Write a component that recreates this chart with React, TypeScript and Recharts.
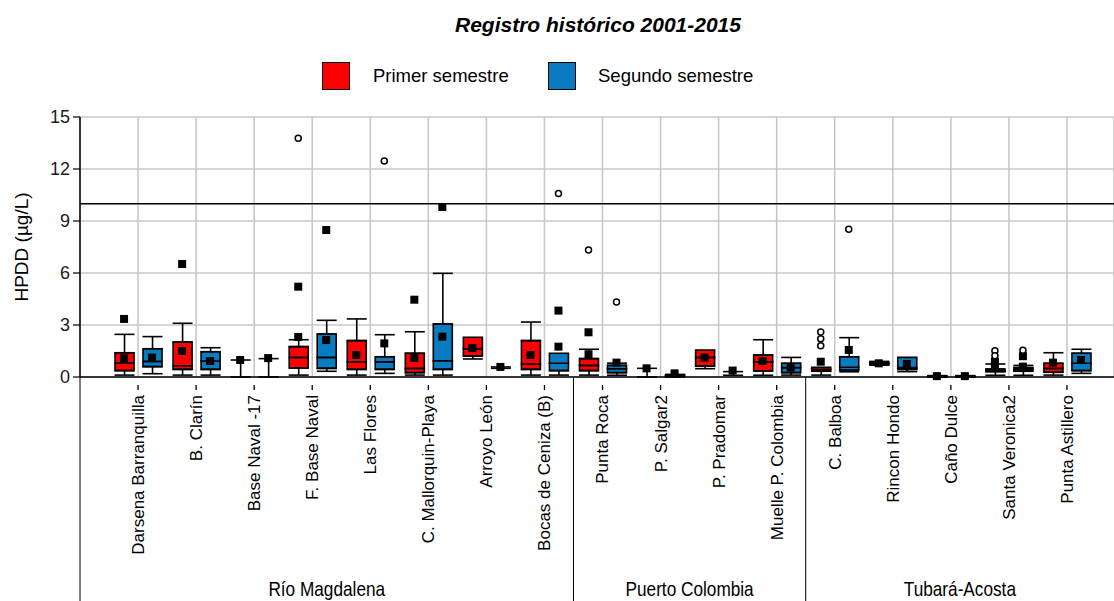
import React from "react";
import {
  ComposedChart,
  Bar,
  Scatter,
  XAxis,
  YAxis,
  CartesianGrid,
  ReferenceLine,
  ErrorBar,
} from "recharts";

// ---------------- data ----------------
const title = "Registro histórico 2001-2015";
const seriesNames = ["Primer semestre", "Segundo semestre"];
const yLabel = "HPDD (µg/L)";
const yTicks = [0, 3, 6, 9, 12, 15];
const limitValue = 10;

const stations = [
  "Darsena Barranquilla",
  "B. Clarín",
  "Base Naval -17",
  "F. Base Naval",
  "Las Flores",
  "C. Mallorquin-Playa",
  "Arroyo León",
  "Bocas de Ceniza (B)",
  "Punta Roca",
  "P. Salgar2",
  "P. Pradomar",
  "Muelle P. Colombia",
  "C. Balboa",
  "Rincon Hondo",
  "Caño Dulce",
  "Santa Veronica2",
  "Punta Astillero",
];
const groups = ["Río Magdalena", "Puerto Colombia", "Tubará-Acosta"];
const groupSizes = [8, 4, 5];

// Primer semestre (red)
const p1Low = [0.11, 0.11, 0, 0.11, 0.11, 0.11, 1.04, 0.11, 0.11, 0, 0.48, 0.1, 0.11, 0.68, 0, 0.1, 0.11];
const p1Q1 = [0.37, 0.44, 0.98, 0.52, 0.44, 0.25, 1.21, 0.44, 0.37, 0.5, 0.63, 0.35, 0.33, 0.72, 0.02, 0.31, 0.27];
const p1Median = [0.81, 0.65, 0.98, 1.13, 0.88, 0.5, 1.62, 0.75, 0.67, 0.5, 1.13, 0.87, 0.44, 0.78, 0.03, 0.36, 0.5];
const p1Q3 = [1.4, 2.02, 0.98, 1.75, 2.1, 1.37, 2.29, 2.1, 1.06, 0.5, 1.56, 1.27, 0.56, 0.85, 0.05, 0.46, 0.79];
const p1High = [2.46, 3.1, 0.98, 2.15, 3.35, 2.61, 2.29, 3.17, 1.6, 0.5, 1.56, 2.15, 0.56, 0.9, 0.08, 0.75, 1.4];
const p1Squares = [
  [1.08, 3.35], [1.5, 6.52], [0.98], [2.31, 5.21], [1.27], [1.1, 4.46], [1.67], [1.27],
  [1.31, 2.58], [0.5], [1.12], [0.92], [0.88], [0.79], [0.05], [0.62, 0.88], [0.83],
];
const p1Circles = [
  [], [], [], [13.77], [], [], [], [], [7.33], [], [], [], [2.6, 2.2, 1.8], [], [], [1.52, 1.22], [],
];

// Segundo semestre (blue)
const p2Low = [0.19, 0.11, 0, 0.33, 0.21, 0.11, 0.5, 0.11, 0.1, 0, 0.1, 0.11, 0.3, 0.31, 0, 0.1, 0.21];
const p2Q1 = [0.6, 0.44, 1.06, 0.5, 0.44, 0.44, 0.58, 0.37, 0.25, 0.05, 0.31, 0.25, 0.4, 0.44, 0.02, 0.33, 0.37];
const p2Median = [0.9, 0.92, 1.06, 1.13, 0.87, 0.94, 0.58, 0.79, 0.48, 0.08, 0.31, 0.54, 0.56, 0.54, 0.03, 0.44, 0.79];
const p2Q3 = [1.63, 1.46, 1.06, 2.48, 1.17, 3.06, 0.58, 1.37, 0.67, 0.12, 0.31, 0.79, 1.17, 1.13, 0.05, 0.54, 1.37];
const p2High = [2.33, 1.69, 1.06, 3.27, 2.44, 5.98, 0.58, 1.37, 0.8, 0.15, 0.31, 1.13, 2.27, 1.13, 0.08, 0.67, 1.6];
const p2Squares = [
  [1.12], [0.92], [1.09], [2.13, 8.48], [1.94], [2.33, 9.81], [0.58], [1.75, 3.83],
  [0.83], [0.21], [0.37], [0.54], [1.56], [0.75], [0.05], [0.6, 1.2], [0.98],
];
const p2Circles = [
  [], [], [], [], [12.46], [], [], [10.58], [4.33], [], [], [], [8.52], [], [], [1.55], [],
];

// ---------------- style / layout ----------------
const FONT = '"Liberation Sans", Arial, Helvetica, sans-serif';
const RED = "#ff0000";
const BLUE = "#0a7bc1";
const GRID = "#c8c8c8";

const CHART_W = 1114;
const CHART_H = 601;
const MARGIN = { top: 117, right: 0, bottom: 0, left: 20 };
const Y_AXIS_W = 60;
const X_AXIS_H = 224;
const PLOT_W = CHART_W - MARGIN.left - Y_AXIS_W - MARGIN.right;
const X_SPAN = 17.81; // visible plot width measured in station spacings
const BAND = PLOT_W / X_SPAN;
const PAD_LEFT = BAND / 2;
const PAD_RIGHT = PLOT_W - PAD_LEFT - stations.length * BAND;
const BAR = 19;
const GAP = 9;
const OFF = (BAR + GAP) / 2;

// ---------------- derived table ----------------
const maxLen = (a: number[][]) => Math.max(...a.map((x) => x.length));
const nP1Sq = maxLen(p1Squares);
const nP1Ci = maxLen(p1Circles);
const nP2Sq = maxLen(p2Squares);
const nP2Ci = maxLen(p2Circles);

const rows = stations.map((station, i) => {
  const row: Record<string, any> = {
    station,
    rLo: p1Low[i], rQ1: p1Q1[i], rMed: p1Median[i], rQ3: p1Q3[i], rHi: p1High[i],
    rSegA: p1Median[i] - p1Q1[i], rSegB: p1Q3[i] - p1Median[i],
    bLo: p2Low[i], bQ1: p2Q1[i], bMed: p2Median[i], bQ3: p2Q3[i], bHi: p2High[i],
    bSegA: p2Median[i] - p2Q1[i], bSegB: p2Q3[i] - p2Median[i],
  };
  for (let k = 0; k < nP1Sq; k++) row[`rSq${k}`] = p1Squares[i][k] ?? null;
  for (let k = 0; k < nP1Ci; k++) row[`rCi${k}`] = p1Circles[i][k] ?? null;
  for (let k = 0; k < nP2Sq; k++) row[`bSq${k}`] = p2Squares[i][k] ?? null;
  for (let k = 0; k < nP2Ci; k++) row[`bCi${k}`] = p2Circles[i][k] ?? null;
  return row;
});

// group separators / label centres in station units (station i sits at i+1)
const groupStarts: number[] = [];
const groupBoundaries: number[] = [];
const groupCenters: number[] = [];
{
  let s = 0;
  groupSizes.forEach((n, g) => {
    const left = g === 0 ? 0 : s + 0.5;
    const right = g === groupSizes.length - 1 ? X_SPAN : s + n + 0.5;
    groupStarts.push(s);
    groupBoundaries.push(left);
    groupCenters.push((left + right) / 2);
    s += n;
  });
}

// ---------------- shapes ----------------
const squareShape = (dx: number) => (p: any) => {
  const { cx, cy } = p;
  if (cx == null || cy == null || Number.isNaN(cy)) return <g />;
  return <rect x={cx + dx - 4} y={cy - 4} width={8} height={8} fill="#000" />;
};
const circleShape = (dx: number) => (p: any) => {
  const { cx, cy } = p;
  if (cx == null || cy == null || Number.isNaN(cy)) return <g />;
  return <circle cx={cx + dx} cy={cy} r={3} fill="#fff" stroke="#000" strokeWidth={1.5} />;
};

const StationTick = (props: any) => {
  const { x, y, payload } = props;
  const i = stations.indexOf(payload.value);
  const gi = groupStarts.indexOf(i);
  let groupPart: React.ReactNode = null;
  if (gi >= 0) {
    const pos = i + 1;
    const sepX = x + (groupBoundaries[gi] - pos) * BAND;
    const cX = x + (groupCenters[gi] - pos) * BAND;
    groupPart = (
      <g>
        <line x1={sepX} x2={sepX} y1={y} y2={y + X_AXIS_H} stroke="#000" strokeWidth={1} />
        <text
          transform={`translate(${cX},${y + 219}) scale(0.82,1)`}
          textAnchor="middle"
          fontSize={21}
          fontFamily={FONT}
          fill="#000"
        >
          {groups[gi]}
        </text>
      </g>
    );
  }
  return (
    <g>
      {groupPart}
      <line x1={x} x2={x} y1={y + 8} y2={y + 13} stroke="#000" strokeWidth={1.3} />
      <text
        transform={`translate(${x},${y + 18}) rotate(-90)`}
        textAnchor="end"
        dy="0.35em"
        fontSize={17}
        fontFamily={FONT}
        fill="#000"
      >
        {payload.value}
      </text>
    </g>
  );
};

const YLabel = (props: any) => {
  const vb = props.viewBox || {};
  const cx = vb.x + 1;
  const cy = vb.y + vb.height / 2;
  return (
    <text
      transform={`translate(${cx},${cy}) rotate(-90)`}
      textAnchor="middle"
      dy="0.35em"
      fontSize={19}
      fontFamily={FONT}
      fill="#000"
    >
      {yLabel}
    </text>
  );
};

export default function App() {
  return (
    <div
      style={{
        position: "absolute",
        left: 0,
        top: 0,
        width: CHART_W,
        height: CHART_H,
        background: "#fff",
        fontFamily: FONT,
      }}
    >
      <ComposedChart
        width={CHART_W}
        height={CHART_H}
        data={rows}
        margin={MARGIN}
        barGap={GAP}
        barSize={BAR}
      >
        <XAxis
          xAxisId={0}
          dataKey="station"
          type="category"
          interval={0}
          height={X_AXIS_H}
          padding={{ left: PAD_LEFT, right: PAD_RIGHT }}
          axisLine={{ stroke: "#000", strokeWidth: 1.5 }}
          tickLine={false}
          tickSize={0}
          tickMargin={0}
          tick={<StationTick />}
        />
        <XAxis xAxisId="wu" dataKey="station" type="category" hide padding={{ left: PAD_LEFT, right: PAD_RIGHT }} />
        <XAxis xAxisId="wl" dataKey="station" type="category" hide padding={{ left: PAD_LEFT, right: PAD_RIGHT }} />
        <YAxis
          type="number"
          domain={[0, 15]}
          ticks={yTicks}
          width={Y_AXIS_W}
          axisLine={{ stroke: "#000", strokeWidth: 1.5 }}
          tickLine={{ stroke: "#000", strokeWidth: 1.2 }}
          tickSize={7}
          tickMargin={3}
          tick={{ fontSize: 18, fill: "#1a1a1a", fontFamily: FONT }}
          label={<YLabel />}
        />
        <CartesianGrid stroke={GRID} strokeWidth={1.6} />
        <ReferenceLine y={limitValue} stroke="#000" strokeWidth={1.5} />

        {/* upper whiskers */}
        <Bar xAxisId="wu" dataKey={(d: any) => [d.rQ3, d.rHi]} fill="none" isAnimationActive={false}>
          <ErrorBar dataKey={(d: any) => [d.rHi - d.rQ3, 0]} width={10} stroke="#000" strokeWidth={1.6} direction="y" isAnimationActive={false} />
        </Bar>
        <Bar xAxisId="wu" dataKey={(d: any) => [d.bQ3, d.bHi]} fill="none" isAnimationActive={false}>
          <ErrorBar dataKey={(d: any) => [d.bHi - d.bQ3, 0]} width={10} stroke="#000" strokeWidth={1.6} direction="y" isAnimationActive={false} />
        </Bar>
        {/* lower whiskers */}
        <Bar xAxisId="wl" dataKey={(d: any) => [d.rLo, d.rQ1]} fill="none" isAnimationActive={false}>
          <ErrorBar dataKey={(d: any) => [d.rQ1 - d.rLo, 0]} width={10} stroke="#000" strokeWidth={1.6} direction="y" isAnimationActive={false} />
        </Bar>
        <Bar xAxisId="wl" dataKey={(d: any) => [d.bLo, d.bQ1]} fill="none" isAnimationActive={false}>
          <ErrorBar dataKey={(d: any) => [d.bQ1 - d.bLo, 0]} width={10} stroke="#000" strokeWidth={1.6} direction="y" isAnimationActive={false} />
        </Bar>

        {/* boxes */}
        <Bar stackId="r" dataKey="rQ1" fill="transparent" isAnimationActive={false} />
        <Bar stackId="r" dataKey="rSegA" fill={RED} stroke="#000" strokeWidth={1.6} isAnimationActive={false} />
        <Bar stackId="r" dataKey="rSegB" fill={RED} stroke="#000" strokeWidth={1.6} isAnimationActive={false} />
        <Bar stackId="b" dataKey="bQ1" fill="transparent" isAnimationActive={false} />
        <Bar stackId="b" dataKey="bSegA" fill={BLUE} stroke="#000" strokeWidth={1.6} isAnimationActive={false} />
        <Bar stackId="b" dataKey="bSegB" fill={BLUE} stroke="#000" strokeWidth={1.6} isAnimationActive={false} />

        {/* markers */}
        {Array.from({ length: nP1Sq }, (_, k) => (
          <Scatter key={`rSq${k}`} dataKey={`rSq${k}`} shape={squareShape(-OFF)} isAnimationActive={false} />
        ))}
        {Array.from({ length: nP1Ci }, (_, k) => (
          <Scatter key={`rCi${k}`} dataKey={`rCi${k}`} shape={circleShape(-OFF)} isAnimationActive={false} />
        ))}
        {Array.from({ length: nP2Sq }, (_, k) => (
          <Scatter key={`bSq${k}`} dataKey={`bSq${k}`} shape={squareShape(OFF)} isAnimationActive={false} />
        ))}
        {Array.from({ length: nP2Ci }, (_, k) => (
          <Scatter key={`bCi${k}`} dataKey={`bCi${k}`} shape={circleShape(OFF)} isAnimationActive={false} />
        ))}
      </ComposedChart>

      <div
        style={{
          position: "absolute",
          left: 0,
          top: 13,
          width: 1196,
          textAlign: "center",
          fontSize: 21,
          fontWeight: "bold",
          fontStyle: "italic",
          color: "#000",
          lineHeight: "24px",
        }}
      >
        {title}
      </div>
      {[
        { name: seriesNames[0], color: RED, box: 322, text: 373 },
        { name: seriesNames[1], color: BLUE, box: 548, text: 598 },
      ].map((l) => (
        <React.Fragment key={l.name}>
          <div
            style={{
              position: "absolute",
              left: l.box,
              top: 62,
              width: 28,
              height: 28,
              boxSizing: "border-box",
              border: "1.5px solid #000",
              background: l.color,
            }}
          />
          <div
            style={{
              position: "absolute",
              left: l.text,
              top: 65,
              fontSize: 18.5,
              lineHeight: "22px",
              color: "#000",
              whiteSpace: "nowrap",
            }}
          >
            {l.name}
          </div>
        </React.Fragment>
      ))}
    </div>
  );
}
